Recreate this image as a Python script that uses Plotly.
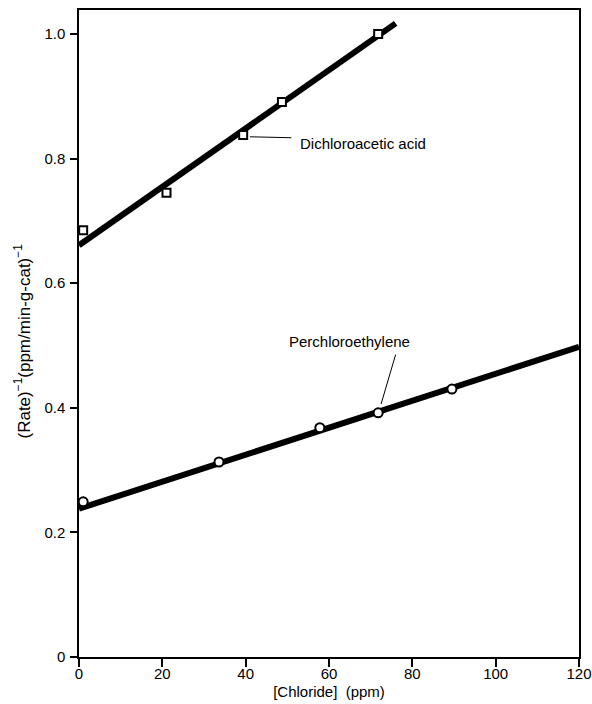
import plotly.graph_objects as go

# Data
dca_x = [1, 21, 39.4, 48.7, 71.8]
dca_y = [0.685, 0.745, 0.838, 0.891, 1.0]
dca_fit_x = [0, 76]
dca_fit_y = [0.661, 1.017]

pce_x = [1, 33.6, 57.8, 71.8, 89.5]
pce_y = [0.249, 0.313, 0.368, 0.392, 0.430]
pce_fit_x = [0, 120]
pce_fit_y = [0.238, 0.498]

x_ticks = [0, 20, 40, 60, 80, 100, 120]
x_ticktext = ["0", "20", "40", "60", "80", "100", "120"]
y_ticks = [0, 0.2, 0.4, 0.6, 0.8, 1.0]
y_ticktext = ["0", "0.2", "0.4", "0.6", "0.8", "1.0"]

FONT = "Liberation Sans, Arial, Helvetica, sans-serif"

fig = go.Figure()
fig.add_trace(go.Scatter(x=dca_fit_x, y=dca_fit_y, mode="lines",
                         line=dict(color="black", width=6), showlegend=False,
                         cliponaxis=False))
fig.add_trace(go.Scatter(x=pce_fit_x, y=pce_fit_y, mode="lines",
                         line=dict(color="black", width=6), showlegend=False,
                         cliponaxis=False))
fig.add_trace(go.Scatter(x=dca_x, y=dca_y, mode="markers",
                         marker=dict(symbol="square", size=8, color="white",
                                     line=dict(color="black", width=2)),
                         showlegend=False, cliponaxis=False))
fig.add_trace(go.Scatter(x=pce_x, y=pce_y, mode="markers",
                         marker=dict(symbol="circle", size=9, color="white",
                                     line=dict(color="black", width=2)),
                         showlegend=False, cliponaxis=False))

# Leader lines
fig.add_annotation(x=41.0, y=0.835, ax=43, ay=1, text="", showarrow=True,
                   arrowhead=0, arrowwidth=1, arrowcolor="black")
fig.add_annotation(x=72.5, y=0.406, ax=15, ay=-51, text="", showarrow=True,
                   arrowhead=0, arrowwidth=1, arrowcolor="black")
# Labels
fig.add_annotation(x=52.6, y=0.825, text="Dichloroacetic acid", showarrow=False,
                   xanchor="left", yanchor="middle",
                   font=dict(family=FONT, size=15, color="black"))
fig.add_annotation(x=65.0, y=0.507, text="Perchloroethylene", showarrow=False,
                   xanchor="center", yanchor="middle",
                   font=dict(family=FONT, size=15, color="black"))
# Y-axis title
fig.add_annotation(xref="paper", yref="paper", x=0, y=0.5, xanchor="center",
                   yanchor="middle", xshift=-57, yshift=-8, textangle=-90,
                   showarrow=False,
                   text="(Rate)<sup>−1</sup>(ppm/min-g-cat)<sup>−1</sup>",
                   font=dict(family=FONT, size=17, color="black"))

fig.update_layout(
    width=592, height=704,
    margin=dict(l=79, r=13, t=10, b=47),
    plot_bgcolor="white", paper_bgcolor="white",
    font=dict(family=FONT, size=15, color="black"),
    xaxis=dict(range=[0, 120], tickvals=x_ticks, ticktext=x_ticktext,
               ticks="outside", ticklen=8, tickwidth=1.5, tickcolor="black",
               tickfont=dict(family=FONT, size=15, color="black"),
               ticklabelstandoff=-6, ticklabeloverflow="allow",
               showline=True, linecolor="black", linewidth=1.5, mirror=True,
               showgrid=False, zeroline=False, automargin=False,
               title=dict(text="[Chloride]\u00a0\u00a0(ppm)", standoff=6,
                          font=dict(family=FONT, size=15))),
    yaxis=dict(range=[0, 1.0385], tickvals=y_ticks, ticktext=y_ticktext,
               ticks="outside", ticklen=7, tickwidth=1.5, tickcolor="black",
               tickfont=dict(family=FONT, size=15, color="black"),
               ticklabelstandoff=2,
               showline=True, linecolor="black", linewidth=1.5, mirror=True,
               showgrid=False, zeroline=False, automargin=False),
)

fig.write_html(
    "out.html",
    config={"displayModeBar": False},
    post_script="document.body.style.margin='0';document.body.style.overflow='hidden';",
)
